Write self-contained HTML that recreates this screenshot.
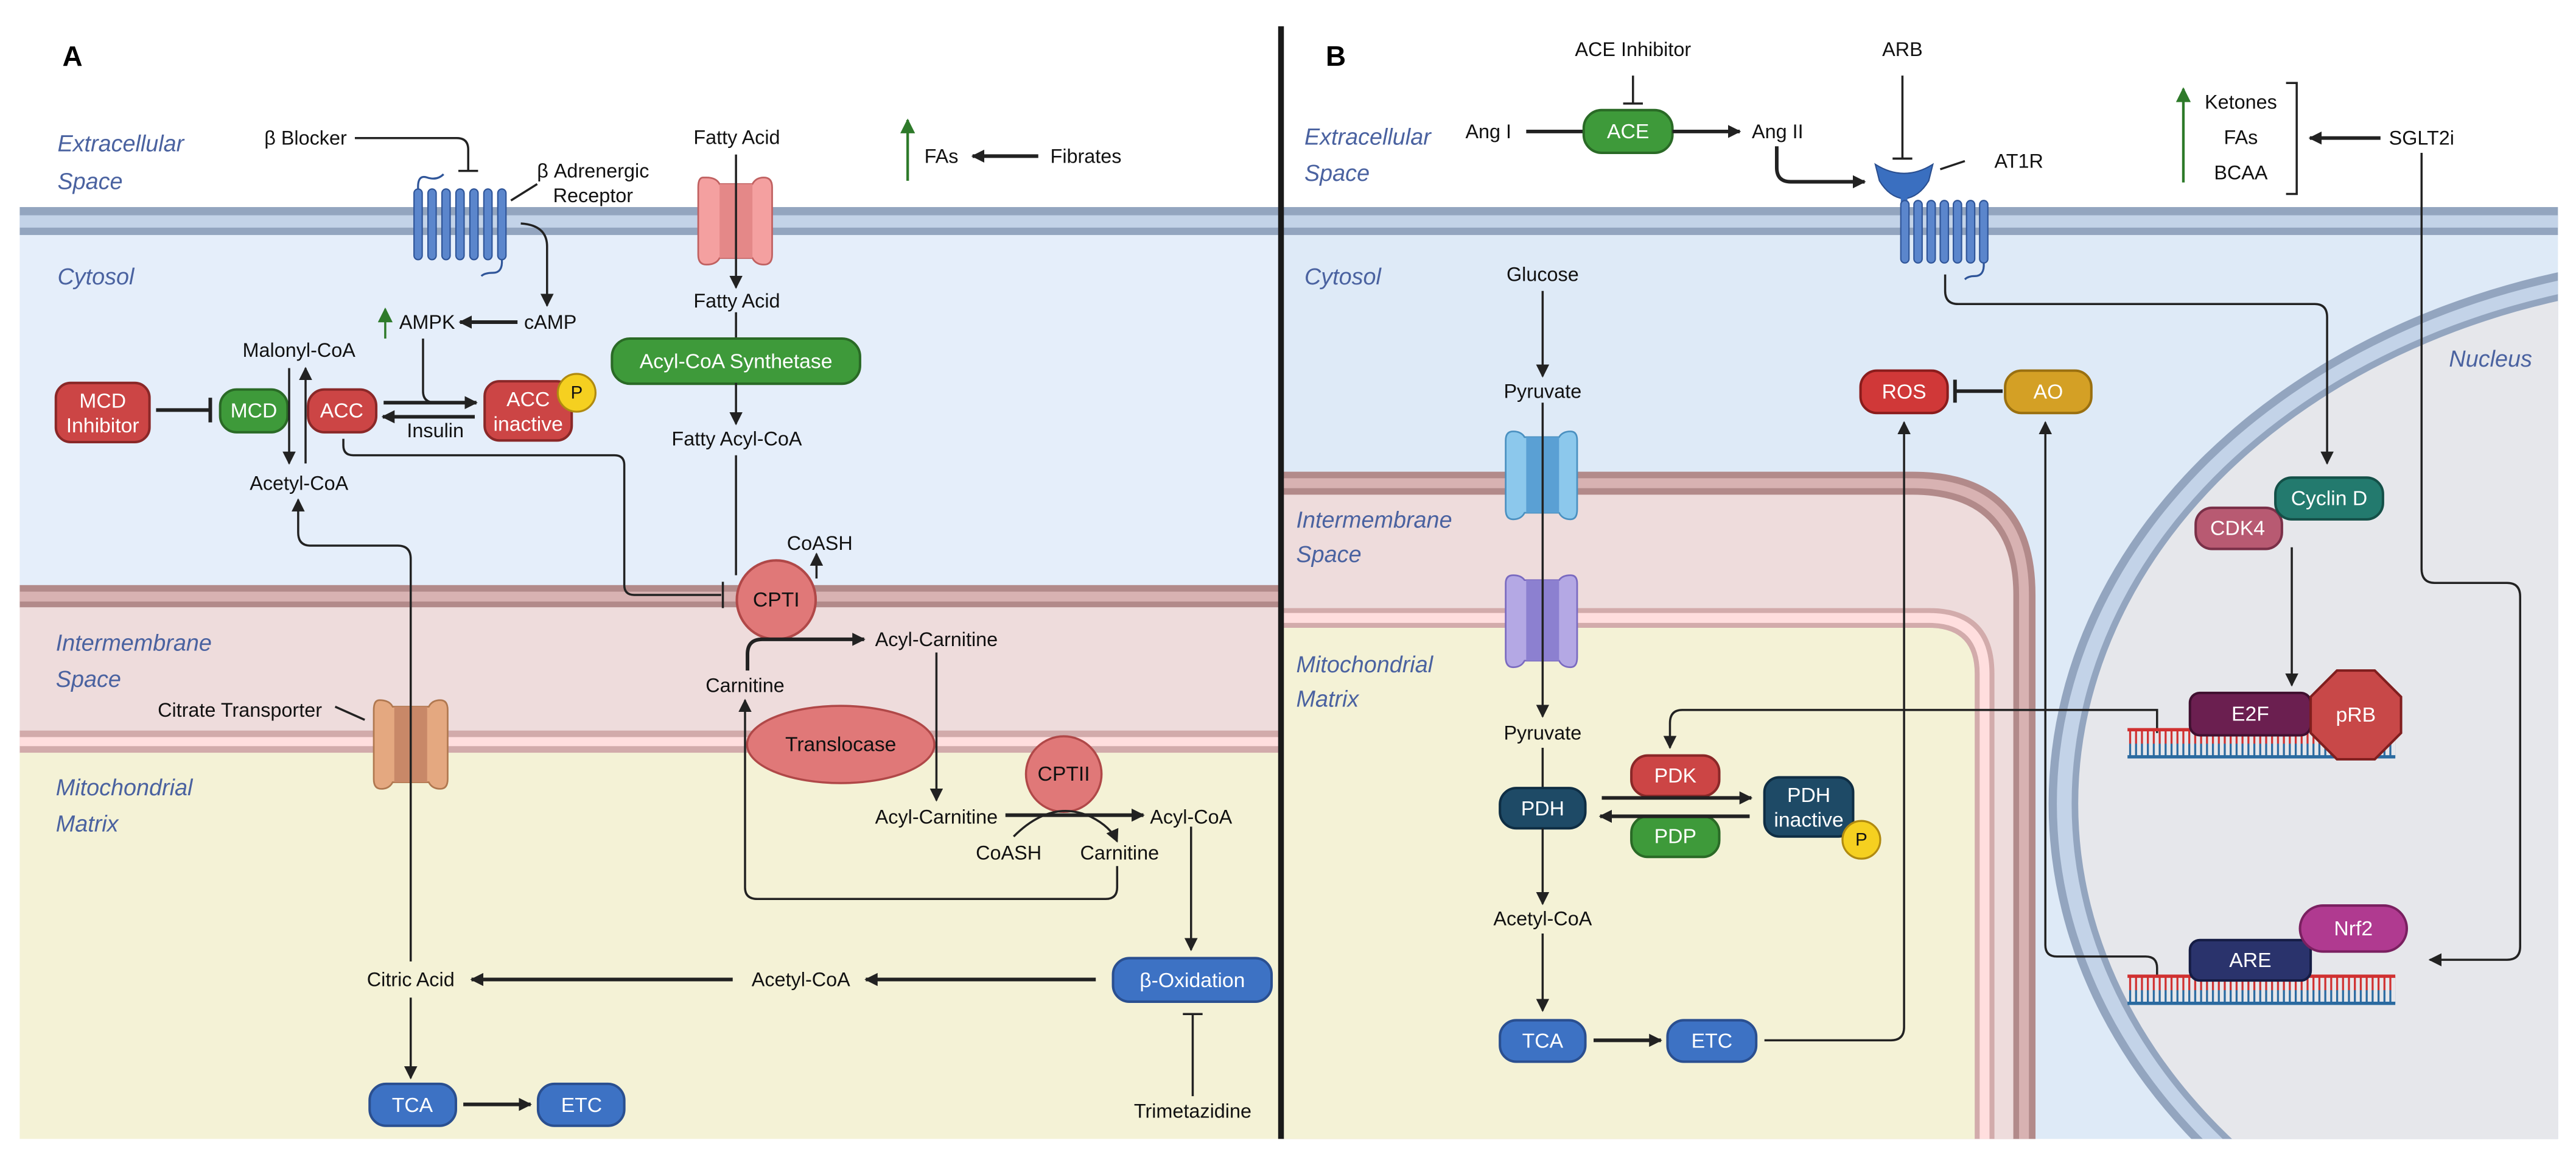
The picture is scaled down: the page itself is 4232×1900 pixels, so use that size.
<!DOCTYPE html>
<html><head><meta charset="utf-8"><style>
html,body{margin:0;padding:0;background:#fff;width:4232px;height:1900px;overflow:hidden;}
svg{display:block;}
text{font-family:"Liberation Sans",sans-serif;}
.l{font-size:12px;fill:#111;text-anchor:middle;dominant-baseline:central;}
.r{font-size:14px;fill:#4a62a0;font-style:italic;}
.b{font-size:12.5px;fill:#fff;text-anchor:middle;dominant-baseline:central;}
.ln{fill:none;stroke:#222;stroke-width:1.3;}
.tk{fill:none;stroke:#222;stroke-width:2.2;}
</style></head><body>
<svg width="4232" height="1900" viewBox="0 0 1568 704" preserveAspectRatio="none" xmlns="http://www.w3.org/2000/svg">
<defs>
<marker id="ah" viewBox="0 0 10 10" refX="9" refY="5" markerWidth="8" markerHeight="8" markerUnits="userSpaceOnUse" orient="auto"><path d="M0,0 L10,5 L0,10 z" fill="#222"/></marker>
<marker id="ag" viewBox="0 0 10 10" refX="9" refY="5" markerWidth="10" markerHeight="9" markerUnits="userSpaceOnUse" orient="auto"><path d="M0,0 L10,5 L0,10 z" fill="#2e7a2a"/></marker>
<pattern id="dna1" patternUnits="userSpaceOnUse" x="0" y="444" width="3.6" height="17"><rect x="0" y="0" width="1.2" height="8.5" fill="#d03030"/><rect x="0" y="8.5" width="1.2" height="8.5" fill="#2a6aa0"/></pattern>
<pattern id="dna2" patternUnits="userSpaceOnUse" x="0" y="594" width="3.6" height="17"><rect x="0" y="0" width="1.2" height="8.5" fill="#d03030"/><rect x="0" y="8.5" width="1.2" height="8.5" fill="#2a6aa0"/></pattern>
<clipPath id="cb"><rect x="781" y="143" width="776" height="550"/></clipPath>
</defs>

<rect x="12" y="142" width="770" height="215" fill="#e5eefa"/>
<rect x="12" y="126" width="770" height="17" fill="#93a5bf"/>
<rect x="12" y="131" width="770" height="7.5" fill="#c3d3e8"/>
<rect x="12" y="356" width="770" height="14" fill="#b28a8a"/>
<rect x="12" y="360" width="770" height="6" fill="#d8b2b2"/>
<rect x="12" y="369.5" width="770" height="75" fill="#eedcdc"/>
<rect x="12" y="444.5" width="770" height="14" fill="#d2abab"/>
<rect x="12" y="448.5" width="770" height="5.5" fill="#ffdede"/>
<rect x="12" y="458" width="770" height="235" fill="#f4f2d6"/>

<rect x="781" y="142" width="776" height="551" fill="#deeaf7"/>
<rect x="781" y="126" width="776" height="17" fill="#93a5bf"/>
<rect x="781" y="131" width="776" height="7.5" fill="#c3d3e8"/>
<path d="M781,287 H1164 Q1239,287 1239,362 V693 H781 Z" fill="#b28a8a"/>
<path d="M781,291 H1164 Q1235,291 1235,362 V693 H781 Z" fill="#d8b2b2"/>
<path d="M781,297 H1164 Q1229,297 1229,362 V693 H781 Z" fill="#b28a8a"/>
<path d="M781,301 H1164 Q1225.5,301 1225.5,362 V693 H781 Z" fill="#eedcdc"/>
<path d="M781,370 H1174 Q1214,370 1214,410 V693 H781 Z" fill="#d2abab"/>
<path d="M781,373 H1174 Q1211,373 1211,410 V693 H781 Z" fill="#ffdede"/>
<path d="M781,379 H1174 Q1205,379 1205,410 V693 H781 Z" fill="#d2abab"/>
<path d="M781,382 H1174 Q1202,382 1202,410 V693 H781 Z" fill="#f4f2d6"/>
<g clip-path="url(#cb)">
<ellipse cx="1667" cy="489" rx="420" ry="335" fill="#93a5bf"/>
<ellipse cx="1667" cy="489" rx="415" ry="330" fill="#c3d3e8"/>
<ellipse cx="1667" cy="489" rx="406" ry="322" fill="#93a5bf"/>
<ellipse cx="1667" cy="489" rx="402" ry="318" fill="#e6e7eb"/>
</g>

<rect x="778" y="16" width="3.5" height="677" fill="#1a1a1a"/>

<text x="38" y="40" style="font-size:17px;font-weight:bold;fill:#000">A</text>
<text x="35" y="92" class="r">Extracellular</text>
<text x="35" y="115" class="r">Space</text>
<text x="35" y="173" class="r">Cytosol</text>
<text x="34" y="396" class="r">Intermembrane</text>
<text x="34" y="418" class="r">Space</text>
<text x="34" y="484" class="r">Mitochondrial</text>
<text x="34" y="506" class="r">Matrix</text>

<text x="186" y="84" class="l">β Blocker</text>
<path class="ln" d="M216,84 H278 Q285,84 285,91 V104"/>
<path class="ln" stroke-width="2" d="M279,104 H291"/>
<g fill="#5b86cc" stroke="#2f5599" stroke-width="0.8">
<rect x="252" y="115" width="5" height="43" rx="2.5"/>
<rect x="260.5" y="115" width="5" height="43" rx="2.5"/>
<rect x="269" y="115" width="5" height="43" rx="2.5"/>
<rect x="277.5" y="115" width="5" height="43" rx="2.5"/>
<rect x="286" y="115" width="5" height="43" rx="2.5"/>
<rect x="294.5" y="115" width="5" height="43" rx="2.5"/>
<rect x="303" y="115" width="5" height="43" rx="2.5"/>
</g>
<path d="M254.5,115 Q254,106 260,108 Q266,110 270,106" fill="none" stroke="#2f5599" stroke-width="1.2"/>
<path d="M305.5,158 Q306,166 300,166 Q295,166 293,168" fill="none" stroke="#2f5599" stroke-width="1.2"/>
<text x="361" y="104" class="l">β Adrenergic</text>
<text x="361" y="119" class="l">Receptor</text>
<path class="ln" d="M311,122 L327,112"/>
<path class="ln" marker-end="url(#ah)" d="M317,136 Q333,137 333,150 V186"/>
<text x="335" y="196" class="l">cAMP</text>
<path class="tk" marker-end="url(#ah)" d="M315,196 H280"/>
<text x="260" y="196" class="l">AMPK</text>
<path fill="none" stroke="#2e7a2a" stroke-width="1.3" marker-end="url(#ag)" d="M234.5,206 V188"/>
<text x="182" y="213" class="l">Malonyl-CoA</text>
<text x="182" y="294" class="l">Acetyl-CoA</text>
<rect x="34" y="233" width="57" height="36" rx="9" fill="#cc4545" stroke="#8a2828" stroke-width="1.5"/>
<text x="62.5" y="244" class="b">MCD</text>
<text x="62.5" y="259" class="b">Inhibitor</text>
<path class="tk" d="M95,249.5 H127"/>
<path class="tk" d="M128,242 V257"/>
<rect x="134" y="237" width="41" height="26" rx="10" fill="#3e9a3a" stroke="#2a6a26" stroke-width="1.5"/>
<text x="154.5" y="250" class="b">MCD</text>
<rect x="187.5" y="237" width="41.5" height="26" rx="10" fill="#cc4545" stroke="#8a2828" stroke-width="1.5"/>
<text x="208" y="250" class="b">ACC</text>
<path class="ln" marker-end="url(#ah)" d="M176,224 V282"/>
<path class="ln" marker-end="url(#ah)" d="M186,282 V224"/>
<rect x="295" y="232" width="53" height="36" rx="9" fill="#cc4545" stroke="#8a2828" stroke-width="1.5"/>
<text x="321.5" y="243" class="b">ACC</text>
<text x="321.5" y="258" class="b">inactive</text>
<circle cx="351" cy="239" r="11.5" fill="#f5d020" stroke="#b08a10" stroke-width="1.2"/>
<text x="351" y="239" class="l" style="font-size:11px">P</text>
<path class="ln" d="M257.5,206 V238 Q257.5,245 265,245"/>
<path class="tk" marker-end="url(#ah)" d="M233.5,245 H290"/>
<path class="tk" marker-end="url(#ah)" d="M289,253.6 H233"/>
<text x="265" y="262" class="l">Insulin</text>
<path class="ln" d="M209,267 V271 Q209,277 215,277 H374 Q380,277 380,283 V356 Q380,362 386,362 H439"/>
<path class="ln" stroke-width="1.8" d="M440,354 V370"/>
<text x="448.5" y="83.5" class="l">Fatty Acid</text>
<path d="M428,108 Q425,108 425,114 V155 Q425,161 430,161 Q436,161 438,157 H458 Q460,161 465,161 Q470,161 470,155 V114 Q470,108 465,108 Q460,108 458,112 H438 Q436,108 430,108 Z" fill="#f4a0a0" stroke="#c06060" stroke-width="1"/>
<rect x="438" y="112" width="20" height="45" fill="#e48888"/>
<path class="ln" marker-end="url(#ah)" d="M448,94 V175"/>
<text x="448.5" y="183" class="l">Fatty Acid</text>
<path class="ln" d="M448,190 V206"/>
<rect x="372.5" y="206" width="151" height="27.5" rx="11" fill="#3e9a3a" stroke="#2a6a26" stroke-width="1.5"/>
<text x="448" y="220" class="b">Acyl-CoA Synthetase</text>
<path class="ln" marker-end="url(#ah)" d="M448,233 V258"/>
<text x="448.5" y="267" class="l">Fatty Acyl-CoA</text>
<path class="ln" d="M448,277 V350"/>
<text x="499" y="330.5" class="l">CoASH</text>
<path class="ln" marker-end="url(#ah)" d="M497,352 V337"/>
<circle cx="472.5" cy="365" r="24" fill="#e07878" stroke="#b04848" stroke-width="1.5"/>
<text x="472.5" y="365" class="l" style="font-size:12.5px">CPTI</text>
<path fill="none" stroke="#2e7a2a" stroke-width="1.6" marker-end="url(#ag)" d="M552.5,110 V73"/>
<text x="573" y="95" class="l">FAs</text>
<path class="tk" marker-end="url(#ah)" d="M632,95 H592"/>
<text x="661" y="95" class="l">Fibrates</text>
<path class="tk" marker-end="url(#ah)" d="M455,408 V398 Q455,389 464,389 H526"/>
<text x="570" y="389" class="l">Acyl-Carnitine</text>
<text x="453.5" y="417" class="l">Carnitine</text>
<path class="ln" marker-end="url(#ah)" d="M570,397 V487"/>
<ellipse cx="511.75" cy="453" rx="57" ry="23.5" fill="#e07878" stroke="#b04848" stroke-width="1.3"/>
<text x="511.75" y="453" class="l" style="font-size:12.5px">Translocase</text>
<path class="ln" marker-end="url(#ah)" d="M680,527 V540 Q680,547 673,547 H461 Q453.5,547 453.5,540 V426"/>
<circle cx="647.5" cy="471" r="23" fill="#e07878" stroke="#b04848" stroke-width="1.3"/>
<text x="647.5" y="471" class="l" style="font-size:12.5px">CPTII</text>
<text x="570" y="497" class="l">Acyl-Carnitine</text>
<path class="tk" marker-end="url(#ah)" d="M612,496 H696"/>
<text x="725" y="497" class="l">Acyl-CoA</text>
<path class="ln" stroke-width="1.6" marker-end="url(#ah)" d="M617,509 Q640,486 664,497 Q676,503 680,512"/>
<text x="614" y="519" class="l">CoASH</text>
<text x="681.5" y="519" class="l">Carnitine</text>
<path class="ln" marker-end="url(#ah)" d="M725,503 V578"/>
<rect x="677.5" y="583" width="96.5" height="26.5" rx="10" fill="#3d72c4" stroke="#2a4f90" stroke-width="1.5"/>
<text x="725.75" y="596.5" class="b">β-Oxidation</text>
<path class="tk" marker-end="url(#ah)" d="M667,596 H527"/>
<text x="487.5" y="596" class="l">Acetyl-CoA</text>
<path class="tk" marker-end="url(#ah)" d="M446,596 H287"/>
<text x="250" y="596" class="l">Citric Acid</text>
<path class="ln" marker-end="url(#ah)" d="M250,585 V340 Q250,332 242,332 H189 Q181.5,332 181.5,324 V304"/>
<path d="M231,426 Q227.5,426 227.5,432 V474 Q227.5,480 232,480 Q237,480 239,476 H261 Q263,480 268,480 Q272.5,480 272.5,474 V432 Q272.5,426 268,426 Q263,426 261,430 H239 Q237,426 231,426 Z" fill="#e4a880" stroke="#b07850" stroke-width="1"/>
<rect x="240" y="430" width="20" height="46" fill="#c88868"/>
<path class="ln" d="M250,426 V480"/>
<text x="146" y="432" class="l">Citrate Transporter</text>
<path class="ln" stroke-width="1.8" d="M204,430 L222,438"/>
<path class="ln" marker-end="url(#ah)" d="M250,607 V656"/>
<rect x="225" y="659.5" width="52.5" height="25.5" rx="10" fill="#3d72c4" stroke="#2a4f90" stroke-width="1.5"/>
<text x="251" y="672.5" class="b">TCA</text>
<path class="tk" marker-end="url(#ah)" d="M282,672 H323"/>
<rect x="327.5" y="659.5" width="52.5" height="25.5" rx="10" fill="#3d72c4" stroke="#2a4f90" stroke-width="1.5"/>
<text x="354" y="672.5" class="b">ETC</text>
<path class="ln" d="M726,667 V617"/>
<path class="ln" stroke-width="2" d="M720,617 H732"/>
<text x="726" y="676" class="l">Trimetazidine</text>

<text x="807" y="40" style="font-size:17px;font-weight:bold;fill:#000">B</text>
<text x="794" y="88" class="r">Extracellular</text>
<text x="794" y="110" class="r">Space</text>
<text x="794" y="173" class="r">Cytosol</text>
<text x="789" y="321" class="r">Intermembrane</text>
<text x="789" y="342" class="r">Space</text>
<text x="789" y="409" class="r">Mitochondrial</text>
<text x="789" y="430" class="r">Matrix</text>
<text x="1516" y="223" class="r" text-anchor="middle">Nucleus</text>

<text x="994" y="30" class="l">ACE Inhibitor</text>
<path class="ln" d="M994,46 V63"/>
<path class="ln" stroke-width="2" d="M988,63 H1000"/>
<text x="906" y="80" class="l">Ang I</text>
<path class="tk" d="M929,80 H964"/>
<rect x="964" y="67" width="54" height="26" rx="11" fill="#3e9a3a" stroke="#2a6a26" stroke-width="1.5"/>
<text x="991" y="80" class="b">ACE</text>
<path class="tk" marker-end="url(#ah)" d="M1018,80 H1059"/>
<text x="1082" y="80" class="l">Ang II</text>
<path class="tk" marker-end="url(#ah)" d="M1081.5,89 V102 Q1081.5,110.6 1090,110.6 H1135"/>
<text x="1158" y="30" class="l">ARB</text>
<path class="ln" d="M1158,46 V96.5"/>
<path class="ln" stroke-width="2" d="M1152,96.5 H1164"/>
<path d="M1141.5,100 Q1159,111 1176.5,100 L1174,110 Q1168,120 1159,121 Q1150,120 1144,110 Z" fill="#3a6fc0" stroke="#2a4f90" stroke-width="0.8"/>
<rect x="1157" y="118" width="4" height="8" fill="#3a6fc0"/>
<g fill="#5b86cc" stroke="#2f5599" stroke-width="0.8">
<rect x="1157" y="122" width="5" height="38" rx="2.5"/>
<rect x="1165" y="122" width="5" height="38" rx="2.5"/>
<rect x="1173" y="122" width="5" height="38" rx="2.5"/>
<rect x="1181" y="122" width="5" height="38" rx="2.5"/>
<rect x="1189" y="122" width="5" height="38" rx="2.5"/>
<rect x="1197" y="122" width="5" height="38" rx="2.5"/>
<rect x="1205" y="122" width="5" height="38" rx="2.5"/>
</g>
<path d="M1207.5,160 Q1208,168 1202,168 Q1198,168 1196,170" fill="none" stroke="#2f5599" stroke-width="1.2"/>
<path class="ln" stroke-width="1.8" d="M1181,103 L1196,98"/>
<text x="1214" y="98" class="l" style="text-anchor:start">AT1R</text>
<path fill="none" stroke="#2e7a2a" stroke-width="1.6" marker-end="url(#ag)" d="M1329,111 V54"/>
<text x="1364" y="62" class="l">Ketones</text>
<text x="1364" y="83.5" class="l">FAs</text>
<text x="1364" y="105" class="l">BCAA</text>
<path class="ln" stroke-width="1.6" d="M1391.5,50.5 H1398 V118 H1391.5"/>
<path class="tk" marker-end="url(#ah)" d="M1449,84 H1406"/>
<text x="1474" y="84" class="l">SGLT2i</text>
<path class="ln" marker-end="url(#ah)" d="M1474,93 V346 Q1474,354.7 1482,354.7 H1526 Q1534,354.7 1534,363 V576 Q1534,584 1526,584 H1479"/>
<path class="ln" marker-end="url(#ah)" d="M1184,167 V177 Q1184,185 1192,185 H1409 Q1416.5,185 1416.5,193 V282"/>
<text x="939" y="167" class="l">Glucose</text>
<path class="ln" marker-end="url(#ah)" d="M939,177 V229"/>
<text x="939" y="238" class="l">Pyruvate</text>
<path d="M921,262.5 Q916.5,262.5 916.5,268 V310 Q916.5,316 921,316 Q926,316 928,312 H949 Q951,316 956,316 Q960,316 960,310 V268 Q960,262.5 956,262.5 Q951,262.5 949,266 H928 Q926,262.5 921,262.5 Z" fill="#8cc8ec" stroke="#4a90c0" stroke-width="1"/>
<rect x="929" y="266" width="20" height="46" fill="#5aa0d4"/>
<path d="M921,350 Q916.5,350 916.5,355 V400 Q916.5,406 921,406 Q926,406 928,402 H949 Q951,406 956,406 Q960,406 960,400 V355 Q960,350 956,350 Q951,350 949,353 H928 Q926,350 921,350 Z" fill="#b4a8e4" stroke="#7a6ac0" stroke-width="1"/>
<rect x="929" y="353" width="20" height="49" fill="#8c80d0"/>
<path class="ln" marker-end="url(#ah)" d="M939,245 V436"/>
<text x="939" y="446" class="l">Pyruvate</text>
<path class="ln" d="M939,455 V480"/>
<rect x="913" y="479.5" width="52" height="24.5" rx="10" fill="#1e4a66" stroke="#0f2e44" stroke-width="1.5"/>
<text x="939" y="492" class="b">PDH</text>
<rect x="993" y="459.7" width="53.5" height="24.7" rx="10" fill="#cc4545" stroke="#8a2828" stroke-width="1.5"/>
<text x="1019.75" y="472" class="b">PDK</text>
<rect x="993" y="496.7" width="53.5" height="24.7" rx="10" fill="#3e9a3a" stroke="#2a6a26" stroke-width="1.5"/>
<text x="1019.75" y="509" class="b">PDP</text>
<path class="tk" marker-end="url(#ah)" d="M975,485.5 H1066"/>
<path class="tk" marker-end="url(#ah)" d="M1065,496.7 H974"/>
<rect x="1074" y="473" width="54" height="36" rx="9" fill="#1e4a66" stroke="#0f2e44" stroke-width="1.5"/>
<text x="1101" y="484" class="b">PDH</text>
<text x="1101" y="499" class="b">inactive</text>
<circle cx="1133" cy="511" r="11.5" fill="#f5d020" stroke="#b08a10" stroke-width="1.2"/>
<text x="1133" y="511" class="l" style="font-size:11px">P</text>
<path class="ln" marker-end="url(#ah)" d="M939,504 V550"/>
<text x="939" y="559" class="l">Acetyl-CoA</text>
<path class="ln" marker-end="url(#ah)" d="M939,568 V615"/>
<rect x="913" y="620.8" width="52" height="25.2" rx="10" fill="#3d72c4" stroke="#2a4f90" stroke-width="1.5"/>
<text x="939" y="633.5" class="b">TCA</text>
<path class="tk" marker-end="url(#ah)" d="M970,633 H1011"/>
<rect x="1015" y="620.8" width="54" height="25.2" rx="10" fill="#3d72c4" stroke="#2a4f90" stroke-width="1.5"/>
<text x="1042" y="633.5" class="b">ETC</text>
<path class="ln" marker-end="url(#ah)" d="M1074,633 H1151 Q1159,633 1159,625 V257"/>
<rect x="1132.5" y="225.5" width="53" height="25.8" rx="10" fill="#d03838" stroke="#8a1c1c" stroke-width="1.5"/>
<text x="1159" y="238.5" class="b">ROS</text>
<rect x="1220.5" y="225.5" width="52.5" height="25.8" rx="10" fill="#d4a025" stroke="#9a7010" stroke-width="1.5"/>
<text x="1246.75" y="238.5" class="b">AO</text>
<path class="tk" d="M1219,238 H1191"/>
<path class="tk" d="M1190,231 V245"/>
<path class="ln" marker-end="url(#ah)" d="M1313,594 V589 Q1313,582 1306,582 H1252 Q1245,582 1245,575 V257"/>
<path class="ln" marker-end="url(#ah)" d="M1313,446 V432 H1024 Q1016.5,432 1016.5,440 V455"/>
<rect x="1336.5" y="309" width="52.5" height="25" rx="10" fill="#b85a72" stroke="#7a3048" stroke-width="1.5"/>
<text x="1362" y="321.5" class="b">CDK4</text>
<rect x="1385" y="290.6" width="65.5" height="25.4" rx="10" fill="#237a6e" stroke="#145048" stroke-width="1.5"/>
<text x="1417.75" y="303.3" class="b">Cyclin D</text>
<path class="ln" marker-end="url(#ah)" d="M1395,333 V417"/>
<rect x="1295" y="444" width="163" height="17" fill="url(#dna1)"/>
<rect x="1295" y="443" width="163" height="2" fill="#d03030"/>
<rect x="1295" y="459.5" width="163" height="2" fill="#2a6aa0"/>
<rect x="1333" y="421.6" width="73.5" height="25.8" rx="6" fill="#6b1f50" stroke="#401030" stroke-width="1.5"/>
<text x="1369.75" y="434.5" class="b">E2F</text>
<polygon points="1422.5,408 1445.5,408 1461.5,424 1461.5,446 1445.5,462 1422.5,462 1406.5,446 1406.5,424" fill="#c84848" stroke="#801e1e" stroke-width="1.5"/>
<text x="1434" y="435" class="b">pRB</text>
<rect x="1295" y="594" width="163" height="17" fill="url(#dna2)"/>
<rect x="1295" y="593" width="163" height="2" fill="#d03030"/>
<rect x="1295" y="609.5" width="163" height="2" fill="#2a6aa0"/>
<rect x="1333" y="572" width="73.5" height="24.6" rx="6" fill="#2a336c" stroke="#151c44" stroke-width="1.5"/>
<text x="1369.75" y="584.3" class="b">ARE</text>
<rect x="1400" y="551" width="65" height="28" rx="14" fill="#b03a90" stroke="#7a2060" stroke-width="1.5"/>
<text x="1432.5" y="565" class="b">Nrf2</text>
</svg>
</body></html>
